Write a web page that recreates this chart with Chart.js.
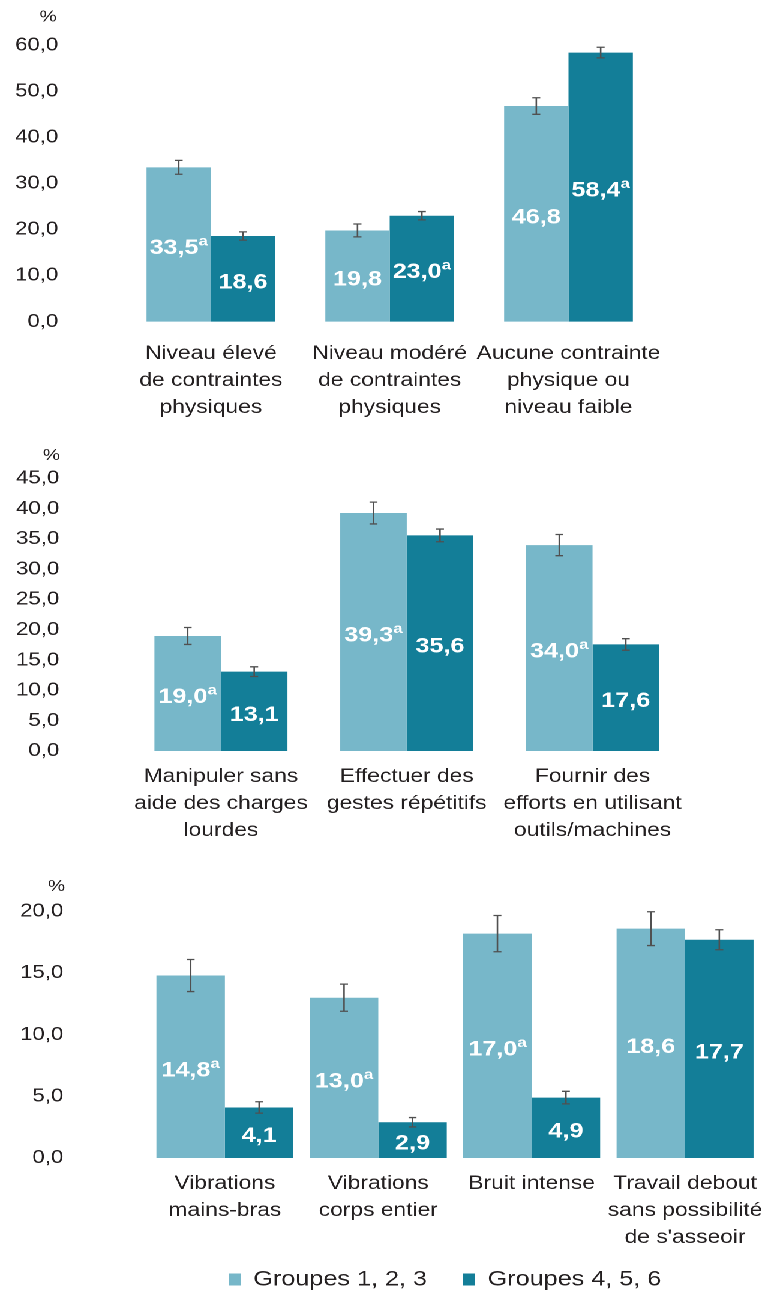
<!DOCTYPE html>
<html><head><meta charset="utf-8">
<script src="https://cdn.jsdelivr.net/npm/chart.js@4.4.1/dist/chart.umd.min.js"></script>
<style>
html,body{margin:0;padding:0;background:#fff;overflow:hidden;width:765px;height:1291px;}
#wrap{position:absolute;left:0;top:0;width:638px;height:1300px;transform:scaleX(1.2);transform-origin:0 0;}
#wrap canvas{position:absolute;left:0;}
</style></head><body>
<div id="wrap">
<canvas id="c1" width="638" height="440" style="top:0px"></canvas>
<canvas id="c2" width="638" height="420" style="top:440px"></canvas>
<canvas id="c3" width="638" height="440" style="top:860px"></canvas>
</div>
<script>
// ---------- DATA ----------
const seriesNames = ["Groupes 1, 2, 3", "Groupes 4, 5, 6"];

// Panel 1
const p1Categories = [["Niveau élevé", "de contraintes", "physiques"], ["Niveau modéré", "de contraintes", "physiques"], ["Aucune contrainte", "physique ou", "niveau faible"]];
const p1Groupes123 = [33.5, 19.8, 46.8];
const p1Groupes456 = [18.6, 23.0, 58.4];
const p1Err123 = [1.5, 1.4, 1.8];
const p1Err456 = [0.9, 0.9, 1.15];
const p1Text123 = ["33,5", "19,8", "46,8"];
const p1Text456 = ["18,6", "23,0", "58,4"];
const p1Sup123 = [true, false, false];
const p1Sup456 = [false, true, true];
const p1YTicks = ["0,0", "10,0", "20,0", "30,0", "40,0", "50,0", "60,0"];

// Panel 2
const p2Categories = [["Manipuler sans", "aide des charges", "lourdes"], ["Effectuer des", "gestes répétitifs"], ["Fournir des", "efforts en utilisant", "outils/machines"]];
const p2Groupes123 = [19.0, 39.3, 34.0];
const p2Groupes456 = [13.1, 35.6, 17.6];
const p2Err123 = [1.4, 1.8, 1.75];
const p2Err456 = [0.8, 1.05, 0.95];
const p2Text123 = ["19,0", "39,3", "34,0"];
const p2Text456 = ["13,1", "35,6", "17,6"];
const p2Sup123 = [true, true, true];
const p2Sup456 = [false, false, false];
const p2YTicks = ["0,0", "5,0", "10,0", "15,0", "20,0", "25,0", "30,0", "35,0", "40,0", "45,0"];

// Panel 3
const p3Categories = [["Vibrations", "mains-bras"], ["Vibrations", "corps entier"], ["Bruit intense"], ["Travail debout", "sans possibilité", "de s'asseoir"]];
const p3Groupes123 = [14.8, 13.0, 18.2, 18.6];
const p3Groupes456 = [4.1, 2.9, 4.9, 17.7];
const p3Err123 = [1.3, 1.1, 1.47, 1.37];
const p3Err456 = [0.46, 0.38, 0.51, 0.81];
const p3Text123 = ["14,8", "13,0", "17,0", "18,6"];
const p3Text456 = ["4,1", "2,9", "4,9", "17,7"];
const p3Sup123 = [true, true, true, false];
const p3Sup456 = [false, false, false, false];
const p3YTicks = ["0,0", "5,0", "10,0", "15,0", "20,0"];

// ---------- STYLE ----------
const FONT = "'Liberation Sans', Arial, Helvetica, sans-serif";
const TEXT = '#231F20';
const LIGHT = '#77B7C9';
const DARK = '#137E98';
const ERR = '#505050';

function noClip(s) { s._computeLabelArea = () => undefined; }

function makePanel(id, d, L) {
  const extras = {
    id: 'extras_' + id,
    afterDatasetsDraw(chart) {
      const ctx = chart.ctx, ys = chart.scales.y;
      const vals = [d.v1, d.v2], errs = [d.e1, d.e2], txt = [d.t1, d.t2], sups = [d.s1, d.s2];
      ctx.save();
      ctx.strokeStyle = ERR; ctx.lineWidth = 1.3;
      for (let k = 0; k < 2; k++) {
        chart.getDatasetMeta(k).data.forEach((bar, i) => {
          const v = vals[k][i], e = errs[k][i];
          const yT = ys.getPixelForValue(v + e), yB = ys.getPixelForValue(v - e), x = bar.x;
          ctx.beginPath();
          ctx.moveTo(x, yT); ctx.lineTo(x, yB);
          ctx.moveTo(x - 3.3, yT); ctx.lineTo(x + 3.3, yT);
          ctx.moveTo(x - 3.3, yB); ctx.lineTo(x + 3.3, yB);
          ctx.stroke();
        });
      }
      ctx.fillStyle = '#ffffff';
      ctx.textBaseline = 'alphabetic'; ctx.textAlign = 'left';
      for (let k = 0; k < 2; k++) {
        chart.getDatasetMeta(k).data.forEach((bar, i) => {
          const main = txt[k][i], sup = sups[k][i];
          ctx.font = "bold 21px " + FONT;
          const w1 = ctx.measureText(main).width;
          ctx.font = "bold 14px " + FONT;
          const w2 = sup ? ctx.measureText('a').width : 0;
          const center = (bar.y + bar.base) / 2 + 2;
          const base = center + 0.358 * 21;
          const x0 = bar.x - (w1 + w2) / 2;
          ctx.font = "bold 21px " + FONT;
          ctx.fillText(main, x0, base);
          if (sup) { ctx.font = "bold 14px " + FONT; ctx.fillText('a', x0 + w1, base - 8.5); }
        });
      }
      ctx.restore();
    },
    afterDraw(chart) {
      const ctx = chart.ctx;
      ctx.save();
      ctx.font = "16px " + FONT; ctx.fillStyle = TEXT;
      ctx.textAlign = 'right'; ctx.textBaseline = 'alphabetic';
      ctx.fillText('%', L.pctX, L.pctY);
      ctx.restore();
    }
  };
  return new Chart(document.getElementById(id), {
    type: 'bar',
    data: {
      labels: d.cats,
      datasets: [
        { label: seriesNames[0], data: d.v1, backgroundColor: LIGHT, borderWidth: 0, barPercentage: 1, categoryPercentage: L.catPct },
        { label: seriesNames[1], data: d.v2, backgroundColor: DARK, borderWidth: 0, barPercentage: 1, categoryPercentage: L.catPct }
      ]
    },
    options: {
      responsive: false, animation: false, devicePixelRatio: 2,
      layout: { padding: { top: L.padTop, left: L.padLeft, right: L.padRight, bottom: 0 } },
      plugins: {
        tooltip: { enabled: false },
        legend: L.legend ? {
          display: true, position: 'bottom', align: 'center',
          labels: { boxWidth: 10, boxHeight: 12, padding: 30, color: TEXT, font: { family: FONT, size: 21 } }
        } : { display: false }
      },
      scales: {
        x: {
          type: 'category', offset: true,
          grid: { display: false, drawTicks: false }, border: { display: false },
          ticks: { font: { family: FONT, size: 19, lineHeight: 1.42 }, color: TEXT, padding: L.xTickPad, maxRotation: 0, minRotation: 0, autoSkip: false },
          afterFit: s => { s.height = L.xHeight; s.paddingLeft = 0; s.paddingRight = 0; noClip(s); }
        },
        y: {
          min: 0, max: d.yMax,
          grid: { display: false, drawTicks: false }, border: { display: false },
          ticks: { stepSize: d.yStep, font: { family: FONT, size: 18.5 }, color: TEXT, padding: L.yTickPad, callback: (v, i) => d.yTicks[i] },
          afterFit: s => { s.width = L.yWidth; s.paddingTop = 0; s.paddingBottom = 0; noClip(s); }
        }
      }
    },
    plugins: [extras]
  });
}

makePanel('c1',
  { cats: p1Categories, v1: p1Groupes123, v2: p1Groupes456, e1: p1Err123, e2: p1Err456, t1: p1Text123, t2: p1Text456, s1: p1Sup123, s2: p1Sup456, yMax: 60, yStep: 10, yTicks: p1YTicks },
  { padTop: 45.2, padLeft: 0, padRight: 89.75, yWidth: 101.25, xHeight: 118.3, yTickPad: 52.65, xTickPad: 18.5, catPct: 0.72, pctX: 47.25, pctY: 21.7, legend: false });

makePanel('c2',
  { cats: p2Categories, v1: p2Groupes123, v2: p2Groupes456, e1: p2Err123, e2: p2Err456, t1: p2Text123, t2: p2Text456, s1: p2Sup123, s2: p2Sup456, yMax: 45, yStep: 5, yTicks: p2YTicks },
  { padTop: 38.5, padLeft: 0, padRight: 66.8, yWidth: 106.7, xHeight: 109, yTickPad: 57.3, xTickPad: 12.2, catPct: 0.716, pctX: 50, pctY: 20, legend: false });

makePanel('c3',
  { cats: p3Categories, v1: p3Groupes123, v2: p3Groupes456, e1: p3Err123, e2: p3Err456, t1: p3Text123, t2: p3Text456, s1: p3Sup123, s2: p3Sup456, yMax: 20, yStep: 5, yTicks: p3YTicks },
  { padTop: 51.4, padLeft: 106.9, padRight: 3.2, yWidth: 16.6, xHeight: 81, yTickPad: 70.75, xTickPad: 12.5, catPct: 0.893, pctX: 54.2, pctY: 31, legend: true });
</script>
</body></html>
